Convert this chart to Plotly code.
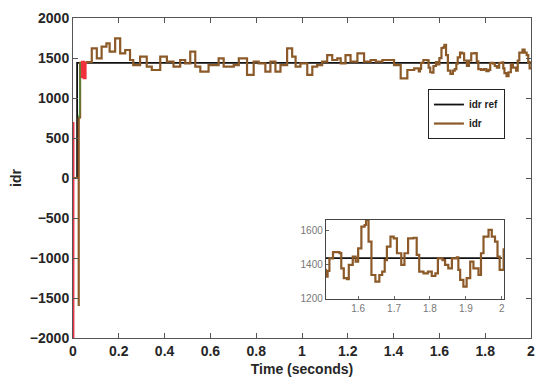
import plotly.graph_objects as go

# reference current
ref_t = [0, 0.018, 0.018, 2.0]
ref_v = [0, 0, 1440, 1440]

idr_t = [0, 0.022, 0.025, 0.025, 0.028, 0.031, 0.06, 0.082, 0.104, 0.125, 0.146, 0.16, 0.184, 0.206,
         0.228, 0.249, 0.263, 0.293, 0.322, 0.344, 0.381, 0.41, 0.439, 0.468, 0.49, 0.512, 0.534,
         0.556, 0.592, 0.636, 0.658, 0.702, 0.724, 0.76, 0.789, 0.811, 0.84, 0.862, 0.884, 0.906,
         0.935, 0.957, 0.972, 0.993, 1.023, 1.045, 1.066, 1.088, 1.11, 1.132, 1.154, 1.169, 1.19,
         1.212, 1.242, 1.271, 1.3, 1.322, 1.351, 1.38, 1.402, 1.431, 1.46, 1.49, 1.51, 1.515,
         1.52, 1.53, 1.548, 1.553, 1.56, 1.569, 1.574, 1.585, 1.593, 1.6, 1.609, 1.618, 1.622,
         1.629, 1.637, 1.648, 1.659, 1.667, 1.674, 1.68, 1.69, 1.699, 1.708, 1.72, 1.729, 1.739,
         1.754, 1.763, 1.77, 1.782, 1.794, 1.805, 1.815, 1.822, 1.835, 1.842, 1.851, 1.861, 1.875,
         1.879, 1.884, 1.893, 1.902, 1.912, 1.921, 1.935, 1.942, 1.949, 1.963, 1.972, 1.981, 1.988,
         1.994, 2.005]
idr_v = [0, 0, -1600, 750, 760, 1440, 1450, 1621, 1496, 1641, 1683, 1579, 1746, 1558,
         1600, 1475, 1412, 1517, 1392, 1350, 1517, 1454, 1392, 1475, 1433, 1579, 1392,
         1329, 1412, 1496, 1392, 1412, 1496, 1288, 1454, 1433, 1329, 1454, 1329, 1412,
         1621, 1517, 1392, 1433, 1288, 1392, 1412, 1454, 1537, 1475, 1496, 1433, 1537,
         1454, 1558, 1454, 1475, 1454, 1475, 1475, 1412, 1246, 1350, 1371, 1331, 1365,
         1439, 1475, 1470, 1380, 1322, 1316, 1400, 1449, 1420, 1498, 1625, 1635, 1665,
         1537, 1341, 1302, 1341, 1361, 1429, 1508, 1567, 1557, 1469, 1400, 1469, 1557,
         1560, 1459, 1361, 1351, 1361, 1335, 1351, 1439, 1429, 1400, 1380, 1439, 1445,
         1371, 1312, 1273, 1322, 1420, 1380, 1341, 1469, 1567, 1606, 1567, 1537, 1449,
         1371, 1498]

# start-up transients
red_t = [0.003, 0.003]
red_v = [-2000, 700]
red2_t = [0.04, 0.04, 0.047, 0.047, 0.054, 0.054]
red2_v = [1250, 1450, 1450, 1250, 1250, 1450]
green_t = [0.026, 0.029, 0.032]
green_v = [750, 800, 1440]

x_ticks = [0, 0.2, 0.4, 0.6, 0.8, 1, 1.2, 1.4, 1.6, 1.8, 2]
x_labels = ["0", "0.2", "0.4", "0.6", "0.8", "1", "1.2", "1.4", "1.6", "1.8", "2"]
y_ticks = [-2000, -1500, -1000, -500, 0, 500, 1000, 1500, 2000]
ins_x_ticks = [1.6, 1.7, 1.8, 1.9, 2]
ins_y_ticks = [1200, 1400, 1600]

BROWN = "#8C5A28"
FONT = "Liberation Sans, Arial, sans-serif"

fig = go.Figure()
fig.add_trace(go.Scatter(x=red_t, y=red_v, mode="lines", line=dict(color="#E8354A", width=1.5),
                         showlegend=False, hoverinfo="skip"))
fig.add_trace(go.Scatter(x=ref_t, y=ref_v, mode="lines", name="idr ref",
                         line=dict(color="#111111", width=1.8)))
fig.add_trace(go.Scatter(x=idr_t, y=idr_v, mode="lines", name="idr",
                         line=dict(color=BROWN, width=2.2, shape="hv")))
fig.add_trace(go.Scatter(x=green_t, y=green_v, mode="lines", line=dict(color="#4E8A3A", width=1.5),
                         showlegend=False, hoverinfo="skip"))
fig.add_trace(go.Scatter(x=red2_t, y=red2_v, mode="lines", line=dict(color="#F0303A", width=2.5),
                         showlegend=False, hoverinfo="skip"))

# inset
fig.add_trace(go.Scatter(x=ref_t, y=ref_v, mode="lines", xaxis="x2", yaxis="y2",
                         line=dict(color="#111111", width=1.8), showlegend=False))
fig.add_trace(go.Scatter(x=idr_t, y=idr_v, mode="lines", xaxis="x2", yaxis="y2",
                         line=dict(color=BROWN, width=2.2, shape="hv"), showlegend=False))

axis_common = dict(showgrid=False, zeroline=False, showline=True, linecolor="#555555", linewidth=1,
                   mirror="ticks", ticks="inside", ticklen=5, tickcolor="#555555", automargin=False)

fig.update_layout(
    width=550, height=388,
    margin=dict(l=65, r=27, t=10, b=58),
    paper_bgcolor="white", plot_bgcolor="white",
    font=dict(family=FONT, color="#262626"),
    xaxis=dict(range=[0, 2], tickvals=x_ticks, ticktext=x_labels, domain=[0, 1],
               tickfont=dict(size=14, weight="bold", color="#262626"),
               title=dict(text="Time (seconds)", font=dict(size=14, weight="bold"), standoff=6),
               **axis_common),
    yaxis=dict(range=[-2000, 2000], tickvals=y_ticks, domain=[0, 1],
               tickfont=dict(size=14, weight="bold", color="#262626"),
               title=dict(text="idr", font=dict(size=14, weight="bold"), standoff=8),
               **axis_common),
    xaxis2=dict(range=[1.51, 2.006], tickvals=ins_x_ticks, ticktext=["1.6", "1.7", "1.8", "1.9", "2"],
                domain=[0.552, 0.941], anchor="y2", showgrid=False, zeroline=False, showline=True,
                linecolor="#444444", linewidth=1, mirror=True, ticks="inside", ticklen=3,
                tickcolor="#666666", tickfont=dict(size=10, color="#777777")),
    yaxis2=dict(range=[1200, 1665], tickvals=ins_y_ticks, domain=[0.122, 0.369], anchor="x2",
                showgrid=False, zeroline=False, showline=True, linecolor="#444444", linewidth=1,
                mirror=True, ticks="inside", ticklen=3, tickcolor="#666666",
                tickfont=dict(size=10, color="#777777")),
    legend=dict(x=0.775, y=0.778, xanchor="left", yanchor="top", bgcolor="white",
                bordercolor="#222222", borderwidth=1, font=dict(size=10, weight="bold", color="#222222"),
                tracegroupgap=0, itemwidth=30),
    showlegend=True,
)

fig.write_html("out.html")
